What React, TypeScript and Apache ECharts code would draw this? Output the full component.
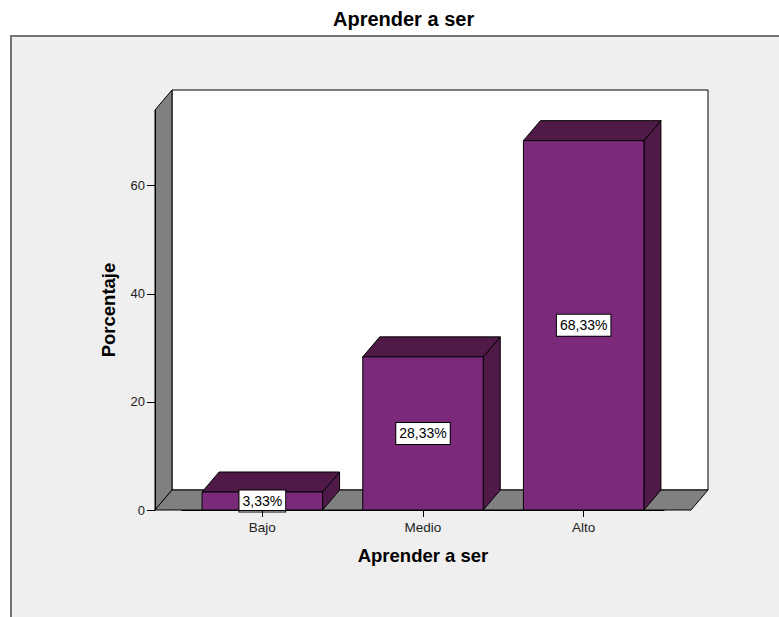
import React, { useEffect, useRef } from "react";
import * as echarts from "echarts";

const chartTitle = "Aprender a ser";
const categories = ["Bajo", "Medio", "Alto"];
const percentages = [3.33, 28.33, 68.33];
const yTickValues = [0, 20, 40, 60];
const yMax = 74;
const xAxisTitle = "Aprender a ser";
const yAxisTitle = "Porcentaje";

const FONT = "Liberation Sans, Arial, sans-serif";
const DX = 17;
const DY = -20;
const FRONT = "#7b2a7a";
const DARK = "#4f1a48";
const WALL = "#808080";

export default function App() {
  const ref = useRef<HTMLDivElement>(null);
  useEffect(() => {
    if (!ref.current) return;
    const chart = echarts.init(ref.current, null, { renderer: "svg" });
    const barData = percentages.map((v, i) => [i, v]);
    const option: any = {
      animation: false,
      backgroundColor: "#ffffff",
      textStyle: { fontFamily: FONT },
      title: {
        text: chartTitle,
        left: 333,
        top: 9,
        padding: 0,
        textStyle: { fontFamily: FONT, fontSize: 20, fontWeight: "bold", color: "#000" },
      },
      graphic: [
        {
          type: "rect",
          z: -100,
          zlevel: 0,
          silent: true,
          shape: { x: 11, y: 36, width: 790, height: 600 },
          style: { fill: "#efefef", stroke: "#747474", lineWidth: 2 },
        },
      ],
      grid: { left: 182, top: 110, width: 482, height: 400 },
      xAxis: {
        type: "category",
        data: categories,
        boundaryGap: true,
        axisLine: { show: true, lineStyle: { color: "#000", width: 1 } },
        axisTick: { show: true, alignWithLabel: true, length: 7, lineStyle: { color: "#000" } },
        axisLabel: { fontFamily: FONT, fontSize: 13.5, color: "#222", margin: 10 },
        name: xAxisTitle,
        nameLocation: "middle",
        nameGap: 36,
        nameTextStyle: { fontFamily: FONT, fontSize: 18.5, fontWeight: "bold", color: "#000" },
        z: 10,
      },
      yAxis: {
        type: "value",
        min: 0,
        max: yMax,
        interval: 20,
        offset: 27,
        splitLine: { show: false },
        axisLine: { show: true, lineStyle: { color: "#000", width: 1 } },
        axisTick: { show: true, length: 8, customValues: yTickValues, lineStyle: { color: "#000" } },
        axisLabel: { fontFamily: FONT, fontSize: 13, color: "#222", margin: 10, customValues: yTickValues },
        name: yAxisTitle,
        nameLocation: "middle",
        nameRotate: 90,
        nameGap: 37,
        nameTextStyle: { fontFamily: FONT, fontSize: 18.5, fontWeight: "bold", color: "#000" },
        z: 10,
      },
      series: [
        {
          type: "custom",
          name: "walls",
          z: 1,
          silent: true,
          data: [[0, 0]],
          encode: { x: 0, y: 1 },
          renderItem: (params: any, api: any) => {
            const cs = params.coordSys;
            const L = cs.x - 27;
            const R = cs.x + cs.width + 27;
            const yT = cs.y;
            const yB = cs.y + cs.height;
            const stroke = { stroke: "#000", lineWidth: 1 };
            return {
              type: "group",
              children: [
                {
                  type: "rect",
                  shape: { x: L + DX, y: yT + DY, width: R - L, height: yB - yT },
                  style: { fill: "#ffffff", ...stroke },
                },
                {
                  type: "polygon",
                  shape: { points: [[L, yB], [L, yT], [L + DX, yT + DY], [L + DX, yB + DY]] },
                  style: { fill: WALL, ...stroke },
                },
                {
                  type: "polygon",
                  shape: { points: [[L, yB], [L + DX, yB + DY], [R + DX, yB + DY], [R, yB]] },
                  style: { fill: WALL, ...stroke },
                },
              ],
            };
          },
        },
        {
          type: "custom",
          name: "Porcentaje",
          z: 5,
          data: barData,
          encode: { x: 0, y: 1 },
          renderItem: (params: any, api: any) => {
            const idx = api.value(0);
            const v = api.value(1);
            const top = api.coord([idx, v]);
            const bot = api.coord([idx, 0]);
            const w = api.size([1, 0])[0] * 0.75;
            const x0 = top[0] - w / 2;
            const x1 = top[0] + w / 2;
            const yT = top[1];
            const yB = bot[1];
            const stroke = { stroke: "#000", lineWidth: 1 };
            const label = v.toFixed(2).replace(".", ",") + "%";
            return {
              type: "group",
              children: [
                {
                  type: "polygon",
                  shape: { points: [[x1, yB], [x1, yT], [x1 + DX, yT + DY], [x1 + DX, yB + DY]] },
                  style: { fill: DARK, ...stroke },
                },
                {
                  type: "polygon",
                  shape: { points: [[x0, yT], [x0 + DX, yT + DY], [x1 + DX, yT + DY], [x1, yT]] },
                  style: { fill: DARK, ...stroke },
                },
                {
                  type: "rect",
                  shape: { x: x0, y: yT, width: x1 - x0, height: yB - yT },
                  style: { fill: FRONT, ...stroke },
                },
                {
                  type: "text",
                  x: top[0],
                  y: (yT + yB) / 2,
                  style: {
                    text: label,
                    fontFamily: FONT,
                    fontSize: 14,
                    fill: "#000",
                    align: "center",
                    verticalAlign: "middle",
                    backgroundColor: "#ffffff",
                    borderColor: "#000",
                    borderWidth: 1,
                    padding: [4, 3, 3, 3],
                  },
                },
              ],
            };
          },
        },
      ],
    };
    chart.setOption(option);
    return () => chart.dispose();
  }, []);
  return (
    <div
      ref={ref}
      style={{ position: "absolute", left: 0, top: 0, width: 779, height: 617 }}
    />
  );
}
